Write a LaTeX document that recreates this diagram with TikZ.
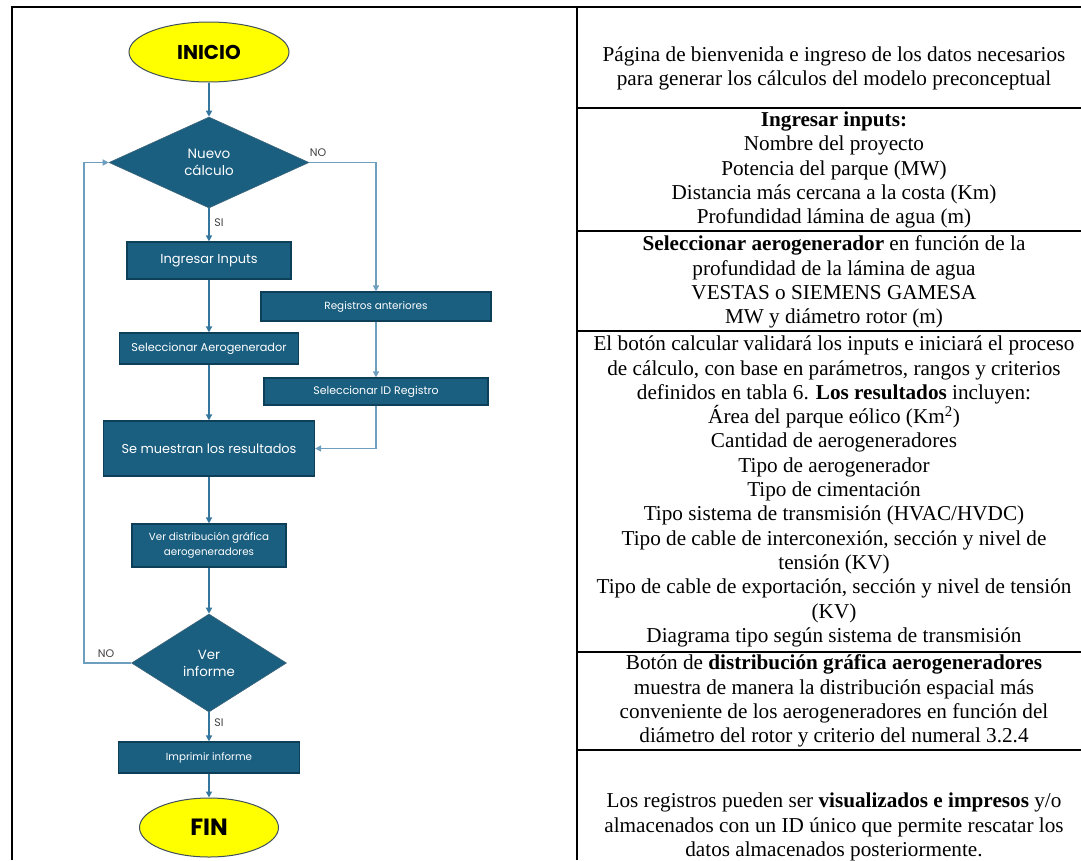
\documentclass[tikz,border=0pt]{standalone}
\usepackage{fontspec}
\setmainfont{Liberation Serif}
\newfontfamily\flowfont{Poppins}
\usetikzlibrary{arrows.meta,positioning,shapes.geometric,calc}
\definecolor{fcbox}{HTML}{1A5E80}
\definecolor{fcedge}{HTML}{0E3F58}
\definecolor{fcline}{HTML}{35769E}
\definecolor{fcback}{HTML}{6E9EBE}
\definecolor{fcyellow}{HTML}{FFFF00}
\definecolor{fcrim}{HTML}{3F4F5C}
\definecolor{fclabel}{HTML}{404040}

\begin{document}
\begin{tikzpicture}[x=1pt,y=-1pt,
  proc/.style={rectangle,fill=fcbox,draw=fcedge,line width=1.2pt,
               text=white,font=\flowfont,inner sep=0pt,align=center},
  decision/.style={diamond,fill=fcbox,draw=fcedge!80,line width=0.6pt,
               text=white,font=\flowfont,inner sep=0pt,align=center},
  terminal/.style={ellipse,fill=fcyellow,draw=fcrim,line width=1pt,
               font=\flowfont\bfseries,inner sep=0pt},
  arr/.style={-{Triangle[length=6pt,width=6pt]},line width=1.6pt,fcline},
  backarr/.style={-{Triangle[length=6pt,width=6pt]},line width=1.8pt,fcback},
  tag/.style={font=\flowfont\fontsize{11}{12}\selectfont,text=fclabel,inner sep=0pt},
  cell/.style={align=center,font=\fontsize{21.2}{24.3}\selectfont,inner sep=0pt},
  rule/.style={line width=2pt,black}
]
  \useasboundingbox (0,0) rectangle (1081,860);

  % ---- Table frame ---------------------------------------------
  \draw[rule] (12,860) -- (12,7) -- (1081,7);
  \draw[rule] (577,7) -- (577,860);
  \foreach \yy in {108,231,331,652,750}
    \draw[rule] (577,\yy) -- (1081,\yy);

  % ---- Flowchart: main column ----------------------------------
  \node[terminal,minimum width=160pt,minimum height=60pt,font=\flowfont\bfseries\fontsize{20}{22}\selectfont]
    (inicio) at (209,52) {INICIO};
  \node[decision,minimum width=200pt,minimum height=91pt,font=\flowfont\fontsize{13.5}{17}\selectfont]
    (nuevo) at (209,162.5) {Nuevo\\cálculo};
  \node[proc,minimum width=164pt,minimum height=37pt,font=\flowfont\fontsize{13}{14}\selectfont]
    (ingresar) at (209,260.5) {Ingresar Inputs};
  \node[proc,minimum width=179pt,minimum height=31pt,font=\flowfont\fontsize{11.3}{12}\selectfont]
    (selaero) at (209,348.5) {Seleccionar Aerogenerador};
  \node[proc,minimum width=211pt,minimum height=55pt,font=\flowfont\fontsize{12.9}{14}\selectfont]
    (result) at (209,448.5) {Se muestran los resultados};
  \node[proc,minimum width=154pt,minimum height=43pt,font=\flowfont\fontsize{10.3}{15}\selectfont]
    (verdist) at (209,545.5) {Ver distribución gráfica\\aerogeneradores};
  \node[decision,minimum width=155pt,minimum height=98pt,font=\flowfont\fontsize{13.3}{17}\selectfont]
    (verinf) at (209,663) {Ver\\informe};
  \node[proc,minimum width=181pt,minimum height=31pt,font=\flowfont\fontsize{10.3}{12}\selectfont]
    (imprimir) at (209,757.5) {Imprimir informe};
  \node[terminal,minimum width=139pt,minimum height=59pt,font=\flowfont\bfseries\fontsize{23.5}{26}\selectfont]
    (fin) at (209,827.5) {FIN};

  % ---- Flowchart: right branch ---------------------------------
  \node[proc,minimum width=230pt,minimum height=29pt,font=\flowfont\fontsize{10.4}{11}\selectfont]
    (regant) at (376,306.5) {Registros anteriores};
  \node[proc,minimum width=224pt,minimum height=27pt,font=\flowfont\fontsize{11}{12}\selectfont]
    (selid) at (376,391.5) {Seleccionar ID Registro};

  % Main arrows
  \draw[arr] (inicio.south) -- (nuevo.north);
  \draw[arr] (nuevo.south) -- (ingresar.north);
  \draw[arr] (ingresar) -- (selaero);
  \draw[arr] (selaero) -- (result);
  \draw[arr] (result) -- (verdist);
  \draw[arr] (verdist) -- (verinf);
  \draw[arr] (verinf) -- (imprimir);
  \draw[arr] (imprimir) -- (fin);

  % Branch and loop back
  \draw[backarr] (nuevo.east) -| (regant.north);
  \draw[backarr] (regant) -- (selid);
  \draw[backarr] (selid.south) |- (result.east);
  \coordinate (loopc) at (84,162.5);
  \draw[backarr] (verinf.west) -| (loopc) -- (nuevo.west);

  % Branch labels
  \node[tag] (nonuevo) at (318,153) {NO};
  \node[tag] (sinuevo) at (219,223) {SI};
  \node[tag] (noinf)   at (106,654) {NO};
  \node[tag] (siinf)   at (219,723) {SI};

  % ---- Description column --------------------------------------
  \node[cell] (cellA) at (834,68.5)
    {Página de bienvenida e ingreso de los datos necesarios\\
     para generar los cálculos del modelo preconceptual};
  \node[cell] (cellB) at (834,170)
    {\textbf{Ingresar inputs:}\\Nombre del proyecto\\Potencia del parque (MW)\\
     Distancia más cercana a la costa (Km)\\Profundidad lámina de agua (m)};
  \node[cell] (cellC) at (834,282)
    {\textbf{Seleccionar aerogenerador} en función de la\\
     profundidad de la lámina de agua\\VESTAS o SIEMENS GAMESA\\
     MW y diámetro rotor (m)};
  \node[cell] (cellD) at (834,491.5)
    {El botón calcular validará los inputs e iniciará el proceso\\
     de cálculo, con base en parámetros, rangos y criterios\\
     definidos en tabla 6. \textbf{Los resultados} incluyen:\\
     Área del parque eólico (Km\textsuperscript{2})\\
     Cantidad de aerogeneradores\\Tipo de aerogenerador\\
     Tipo de cimentación\\Tipo sistema de transmisión (HVAC/HVDC)\\
     Tipo de cable de interconexión, sección y nivel de\\tensión (KV)\\
     Tipo de cable de exportación, sección y nivel de tensión\\(KV)\\
     Diagrama tipo según sistema de transmisión};
  \node[cell] (cellE) at (834,701)
    {Botón de \textbf{distribución gráfica aerogeneradores}\\
     muestra de manera la distribución espacial más\\
     conveniente de los aerogeneradores en función del\\
     diámetro del rotor y criterio del numeral 3.2.4};
  \node[cell] (cellF) at (834,827)
    {Los registros pueden ser \textbf{visualizados e impresos} y/o\\
     almacenados con un ID único que permite rescatar los\\
     datos almacenados posteriormente.};

\end{tikzpicture}
\end{document}
